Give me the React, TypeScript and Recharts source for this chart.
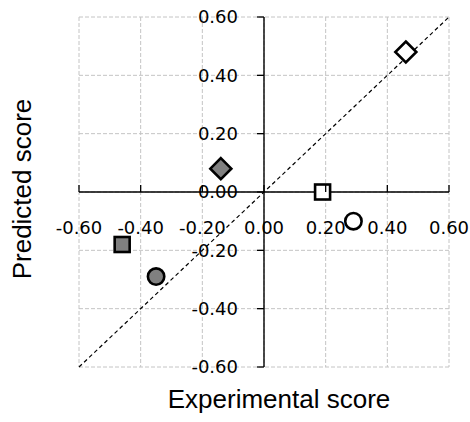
import { ScatterChart, Scatter, XAxis, YAxis, CartesianGrid, ReferenceLine } from 'recharts'

// measured scores for each compound (x = experimental, y = predicted)
const EXPERIMENTAL = [0.46, -0.14, 0.19, 0.29, -0.46, -0.35]
const PREDICTED = [0.48, 0.08, 0.0, -0.1, -0.18, -0.29]

const X_TICKS = [-0.6, -0.4, -0.2, 0, 0.2, 0.4, 0.6]
const Y_TICKS = [-0.6, -0.4, -0.2, 0, 0.2, 0.4, 0.6]
const IDENTITY = [-0.6, 0.6]

// marker styling, one per point (kept apart from the values)
const MARKERS: { shape: 'diamond' | 'square' | 'circle'; fill: string }[] = [
  { shape: 'diamond', fill: '#ffffff' },
  { shape: 'diamond', fill: '#808080' },
  { shape: 'square', fill: '#ffffff' },
  { shape: 'circle', fill: '#ffffff' },
  { shape: 'square', fill: '#808080' },
  { shape: 'circle', fill: '#808080' },
]

const W = 470
const H = 422
const AXIS_SIZE = 1
const MARGIN = { top: 17, right: 21, bottom: 55 - AXIS_SIZE, left: 79 - AXIS_SIZE }
const PLOT_W = W - 79 - MARGIN.right
const PLOT_H = H - MARGIN.top - 55
// axes cross at the origin, which is the middle of the symmetric domain
const X0 = 79 + PLOT_W / 2
const Y0 = MARGIN.top + PLOT_H / 2

const TICK_FONT = '"DejaVu Sans", Verdana, sans-serif'
const TITLE_FONT = '"Liberation Sans", Arial, sans-serif'

const data = EXPERIMENTAL.map((x, i) => ({ x, y: PREDICTED[i], i }))

function Marker(props: any) {
  const { cx, cy, payload } = props
  if (cx == null || cy == null) return null
  const m = MARKERS[payload.i]
  const common = { fill: m.fill, stroke: '#000', strokeWidth: 2.6 }
  if (m.shape === 'diamond') {
    const r = 10.5
    return <path d={`M${cx},${cy - r}L${cx + r},${cy}L${cx},${cy + r}L${cx - r},${cy}Z`} {...common} />
  }
  if (m.shape === 'square') {
    const r = 7.5
    return <rect x={cx - r} y={cy - r} width={r * 2} height={r * 2} {...common} />
  }
  return <circle cx={cx} cy={cy} r={8.2} {...common} />
}

function XTick(props: any) {
  const { x, payload } = props
  return (
    <g>
      <line x1={x} x2={x} y1={Y0} y2={Y0 - 7} stroke="#000" strokeWidth={1.3} />
      <text x={x} y={Y0 + 36} dy="0.36em" textAnchor="middle" fontFamily={TICK_FONT} fontSize={18} fill="#000">
        {payload.value.toFixed(2)}
      </text>
    </g>
  )
}

function YTick(props: any) {
  const { y, payload } = props
  return (
    <g>
      <line x1={X0} x2={X0 - 7} y1={y} y2={y} stroke="#000" strokeWidth={1.3} />
      <text x={X0 - 26} y={y} dy="0.36em" textAnchor="end" fontFamily={TICK_FONT} fontSize={18} fill="#000">
        {payload.value.toFixed(2)}
      </text>
    </g>
  )
}

export default function App() {
  return (
    <div style={{ position: 'absolute', left: 0, top: 0, width: W, height: H, background: '#fff' }}>
      <ScatterChart width={W} height={H} margin={MARGIN}>
        <CartesianGrid stroke="#c4c4c4" strokeDasharray="4 2" />
        <XAxis
          type="number"
          dataKey="x"
          domain={[-0.6, 0.6]}
          ticks={X_TICKS}
          interval={0}
          height={AXIS_SIZE}
          axisLine={false}
          tickLine={false}
          tick={XTick}
          label={() => (
            <text x={279} y={408} textAnchor="middle" fontFamily={TITLE_FONT} fontSize={26} fill="#000">
              Experimental score
            </text>
          )}
        />
        <YAxis
          type="number"
          dataKey="y"
          domain={[-0.6, 0.6]}
          ticks={Y_TICKS}
          interval={0}
          width={AXIS_SIZE}
          axisLine={false}
          tickLine={false}
          tick={YTick}
          label={() => (
            <text
              x={31}
              y={189}
              transform="rotate(-90, 31, 189)"
              textAnchor="middle"
              fontFamily={TITLE_FONT}
              fontSize={26}
              fill="#000"
            >
              Predicted score
            </text>
          )}
        />
        <ReferenceLine
          segment={[
            { x: IDENTITY[0], y: IDENTITY[0] },
            { x: IDENTITY[1], y: IDENTITY[1] },
          ]}
          stroke="#000"
          strokeWidth={1.2}
          strokeDasharray="4 3"
        />
        <ReferenceLine x={0} stroke="#000" strokeWidth={1.4} />
        <ReferenceLine y={0} stroke="#000" strokeWidth={1.4} />
        <Scatter data={data} shape={Marker} isAnimationActive={false} />
      </ScatterChart>
    </div>
  )
}
